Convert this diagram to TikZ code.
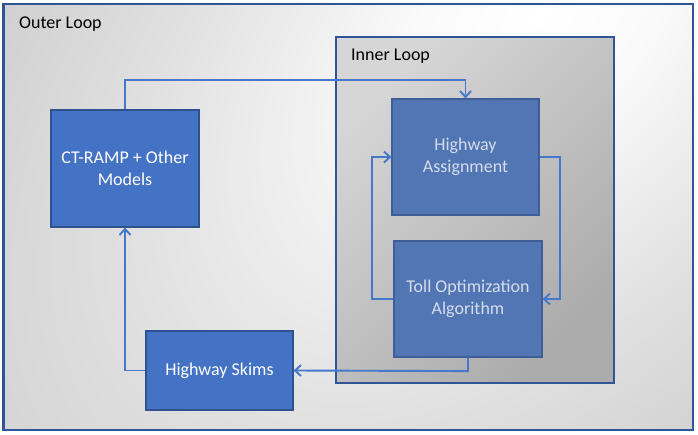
\documentclass[tikz,border=0pt]{standalone}
\usepackage{fontspec}
\setmainfont{Carlito}
\usetikzlibrary{arrows.meta}
\definecolor{boxblue}{HTML}{4472C4}
\definecolor{boxedge}{HTML}{2F528F}
\definecolor{innerblue}{HTML}{5275B4}
\definecolor{inneredge}{HTML}{3F5E98}
\definecolor{innertext}{HTML}{D5DDEB}
\definecolor{framecol}{HTML}{2F5597}
\definecolor{linkblue}{HTML}{4677CA}
\definecolor{gA}{gray}{0.98}
\definecolor{gB}{gray}{0.88}
\definecolor{gC}{gray}{0.80}
\definecolor{gD}{gray}{0.73}
\definecolor{gE}{gray}{0.65}
\definecolor{inlight}{gray}{0.84}
\definecolor{indark}{gray}{0.67}
\pgfdeclareradialshading{outerglow}{\pgfpointorigin}{color(0bp)=(white); color(6bp)=(gA); color(18bp)=(gB); color(30bp)=(gC); color(42bp)=(gD); color(50bp)=(gE); color(120bp)=(gE)}
\tikzset{
  bluebox/.style={draw=boxedge, line width=1.2pt, fill=boxblue, text=white, minimum width=#1, inner sep=0pt, align=center, font=\fontsize{18}{22}\selectfont},
  innerbox/.style={draw=inneredge, line width=1.2pt, fill=innerblue, text=innertext, minimum width=148pt, minimum height=116pt, inner sep=0pt, align=center, font=\fontsize{18}{22}\selectfont},
  link/.style={draw=linkblue, line width=1.9pt, -{Straight Barb[length=6pt,width=11pt]}},
  looplabel/.style={anchor=base west, inner sep=0pt, font=\fontsize{18}{22}\selectfont, text=black}
}
\begin{document}
\begin{tikzpicture}[x=1pt,y=-1pt]
\useasboundingbox (0,0) rectangle (698,434);
\fill[white] (0,0) rectangle (698,434);
% outer loop background
\begin{scope}
  \clip (3.5,4) rectangle (693,430);
  \begin{scope}[transform canvas={shift={(540,15)}, rotate=45}]
    \shade[shading=outerglow] (-700,-400) rectangle (700,400);
  \end{scope}
\end{scope}
\draw[framecol, line width=2.6pt] (3.5,4) rectangle (693,430);
\node[looplabel] (outerlbl) at (19,28) {Outer Loop};
% inner loop
\shade[top color=inlight, bottom color=indark, shading angle=45] (336,37) rectangle (614,383);
\draw[framecol, line width=2.4pt] (336,37) rectangle (614,383);
\node[looplabel] (innerlbl) at (351,60) {Inner Loop};
% boxes
\node[bluebox=148pt, minimum height=117pt] (ct) at (125,168.5) {CT-RAMP + Other\\Models};
\node[bluebox=147pt, minimum height=79pt] (sk) at (219.5,370.5) {Highway Skims};
\node[innerbox, minimum width=147pt] (ha) at (465.5,157) {Highway\\Assignment};
\node[innerbox] (toll) at (468,299) {Toll Optimization\\Algorithm};
% connectors
\coordinate (c1) at (125,80);
\draw[link] (ct.north) -- (c1) -| (ha.north);
\draw[link] (ha.east) -- ++(20,0) |- (toll.east);
\draw[link] (toll.west) -- ++(-21,0) |- (ha.west);
\draw[link] (toll.south) -- ++(0,13.5) -- (sk.east);
\draw[link] (sk.west) -| (ct.south);
\end{tikzpicture}
\end{document}
